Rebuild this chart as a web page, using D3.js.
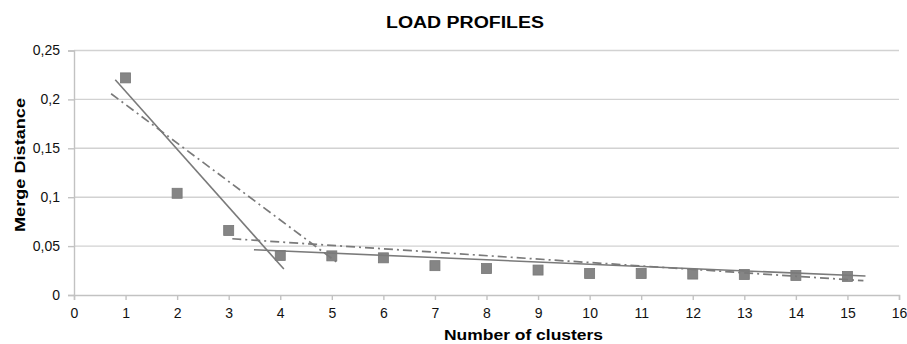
<!DOCTYPE html>
<html>
<head>
<meta charset="utf-8">
<script src="https://cdn.jsdelivr.net/npm/d3@7"></script>
<style>
  html, body { margin: 0; padding: 0; background: #fff; }
  svg { display: block; }
</style>
</head>
<body>
<svg id="chart" width="907" height="344"></svg>
<script>
// Merge distance per number of clusters
const clusters = [1, 2, 3, 4, 5, 6, 7, 8, 9, 10, 11, 12, 13, 14, 15];
const mergeDistance = [0.222, 0.104, 0.066, 0.0405, 0.040, 0.038, 0.030, 0.027, 0.0255, 0.022, 0.022, 0.0214, 0.021, 0.020, 0.019];

// Fitted trend segments (endpoints, [clusters, distance])
const solidFitSteep = [[0.8, 0.220], [4.07, 0.0265]];
const solidFitFlat = [[3.49, 0.0462], [15.35, 0.0194]];
const dashFitSteep = [[0.72, 0.2058], [5.11, 0.033]];
const dashFitFlat = [[3.07, 0.0575], [15.31, 0.0146]];

const xTicks = d3.range(0, 17, 1);
const yTicks = [0, 0.05, 0.1, 0.15, 0.2, 0.25];

const svg = d3.select("#chart");
const plotLeft = 74, plotRight = 899, plotTop = 50.5, plotBottom = 295;

const x = d3.scaleLinear().domain([0, 16]).range([plotLeft, plotRight]);
const y = d3.scaleLinear().domain([0, 0.25]).range([plotBottom, plotTop]);
const fmt = d => String(d).replace(".", ",");

// Horizontal gridlines
svg.append("g")
  .selectAll("line")
  .data(yTicks.filter(d => d > 0))
  .join("line")
  .attr("x1", plotLeft).attr("x2", plotRight)
  .attr("y1", d => y(d)).attr("y2", d => y(d))
  .attr("stroke", "#d2d2d2").attr("stroke-width", 1.4);

// Y axis
const yAxis = svg.append("g")
  .attr("transform", `translate(${plotLeft},0)`)
  .call(d3.axisLeft(y).tickValues(yTicks).tickFormat(fmt).tickSize(6).tickPadding(8));
yAxis.select(".domain").attr("stroke", "#c2c2c2").attr("stroke-width", 1.4);
yAxis.selectAll(".tick line").attr("stroke", "#c2c2c2").attr("stroke-width", 1.4);
yAxis.selectAll(".tick text")
  .attr("font-family", "Liberation Sans, Arial, sans-serif")
  .attr("font-size", 14).attr("fill", "#111");

// X axis
const xAxis = svg.append("g")
  .attr("transform", `translate(0,${plotBottom})`)
  .call(d3.axisBottom(x).tickValues(xTicks).tickFormat(d3.format("d")).tickSize(5).tickPadding(8));
xAxis.select(".domain").attr("stroke", "#c2c2c2").attr("stroke-width", 1.4);
xAxis.selectAll(".tick line").attr("stroke", "#c2c2c2").attr("stroke-width", 1.4);
xAxis.selectAll(".tick text")
  .attr("font-family", "Liberation Sans, Arial, sans-serif")
  .attr("font-size", 14).attr("fill", "#111");

// Data markers
svg.append("g")
  .selectAll("rect")
  .data(clusters.map((c, i) => [c, mergeDistance[i]]))
  .join("rect")
  .attr("x", d => x(d[0]) - 5)
  .attr("y", d => y(d[1]) - 5)
  .attr("width", 10).attr("height", 10)
  .attr("fill", "#858585")
  .attr("stroke", "#777").attr("stroke-width", 0.8);

// Trend lines
const line = d3.line().x(d => x(d[0])).y(d => y(d[1]));
const trendColor = "#7a7a7a";
[solidFitSteep, solidFitFlat].forEach(seg => {
  svg.append("path").datum(seg).attr("d", line)
    .attr("fill", "none").attr("stroke", trendColor).attr("stroke-width", 1.6);
});
[dashFitSteep, dashFitFlat].forEach(seg => {
  svg.append("path").datum(seg).attr("d", line)
    .attr("fill", "none").attr("stroke", trendColor).attr("stroke-width", 1.7)
    .attr("stroke-dasharray", "9,4,2,4");
});

// Title and axis titles
svg.append("text")
  .attr("x", 465).attr("y", 28)
  .attr("text-anchor", "middle")
  .attr("font-family", "Liberation Sans, Arial, sans-serif")
  .attr("font-weight", "bold").attr("font-size", 16)
  .attr("textLength", 158).attr("lengthAdjust", "spacingAndGlyphs")
  .attr("fill", "#000")
  .text("LOAD PROFILES");

svg.append("text")
  .attr("x", 523.5).attr("y", 340)
  .attr("text-anchor", "middle")
  .attr("font-family", "Liberation Sans, Arial, sans-serif")
  .attr("font-weight", "bold").attr("font-size", 15.5)
  .attr("textLength", 159).attr("lengthAdjust", "spacingAndGlyphs")
  .attr("fill", "#000")
  .text("Number of clusters");

svg.append("text")
  .attr("transform", "translate(25,165) rotate(-90)")
  .attr("text-anchor", "middle")
  .attr("font-family", "Liberation Sans, Arial, sans-serif")
  .attr("font-weight", "bold").attr("font-size", 15.5)
  .attr("textLength", 134).attr("lengthAdjust", "spacingAndGlyphs")
  .attr("fill", "#000")
  .text("Merge Distance");
</script>
</body>
</html>
